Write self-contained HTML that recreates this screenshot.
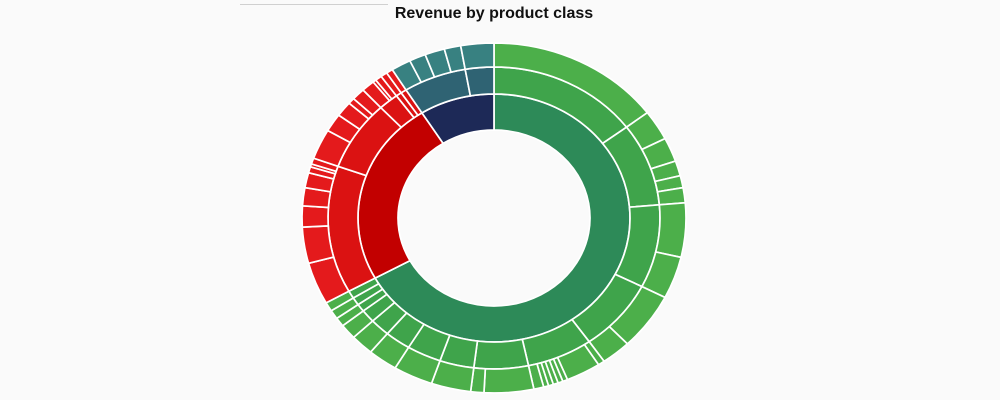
<!DOCTYPE html>
<html><head><meta charset="utf-8"><style>
html,body{margin:0;padding:0;background:#fafafa;}
svg{display:block;font-family:"Liberation Sans",Arial,sans-serif;}
</style></head><body>
<svg id="chart" width="1000" height="400">
<rect width="1000" height="400" fill="#fafafa"/>
<line x1="240" y1="4.5" x2="388" y2="4.5" stroke="#d0d0d0" stroke-width="1"/>
<text x="494" y="18" text-anchor="middle" font-size="16" font-weight="bold" fill="#111">Revenue by product class</text>
<g id="rings"></g>
</svg>
<script>
// Top-level classes
const classNames = ["Green class", "Red class", "Navy class"];
// Level-2 groups: parent class index
const groupParent = [0,0,0,0,0,0,0,0,0,0,0,0,0,0, 1,1,1,1,1, 2,2];
// Leaf values per level-2 group
const leafValues = [
  [53],
  [10,8,5,4,5],
  [18,14],
  [19,9],
  [2,10.5,1.5,1.5,1.5,1.5,1.5,3],
  [15,4],
  [12],
  [12],
  [9],
  [7],
  [5],
  [3],
  [3],
  [3],
  [14,12,7,6,5,2,1,2],
  [10,6,5,2,4],
  [4,1,2],
  [2],
  [2],
  [6,5,6,5],
  [10]
];
const ring1Colors = ["#2d8a58","#c20000","#1d2957"];
const ring2Colors = ["#3fa44b","#db1212","#2f6373"];
const ring3Colors = ["#4caf4a","#e41a1c","#388181"];

const cx = 494, cy = 218;
const RX = [96,136,166,192], RY = [88,124,151,175];
const g = document.getElementById('rings');
const NS = "http://www.w3.org/2000/svg";

const groupTotals = leafValues.map(a => a.reduce((s,v)=>s+v,0));
const classTotals = classNames.map((_,i)=>groupTotals.reduce((s,v,j)=>s+(groupParent[j]===i?v:0),0));
const grand = classTotals.reduce((s,v)=>s+v,0);
const ang = v => v/grand*2*Math.PI;

function pt(level, a){ return [cx + RX[level]*Math.sin(a), cy - RY[level]*Math.cos(a)]; }
function arc(level, a0, a1, color, name){
  const [x0,y0]=pt(level,a0),[x1,y1]=pt(level,a1),[x2,y2]=pt(level+1,a1),[x3,y3]=pt(level+1,a0);
  const large = (a1-a0)>Math.PI?1:0;
  const d = `M${x0},${y0} A${RX[level]},${RY[level]} 0 ${large} 1 ${x1},${y1} L${x2},${y2} A${RX[level+1]},${RY[level+1]} 0 ${large} 0 ${x3},${y3} Z`;
  const p = document.createElementNS(NS,'path');
  p.setAttribute('d',d);
  p.setAttribute('fill',color);
  p.setAttribute('stroke','#fff');
  p.setAttribute('stroke-width','1.7');
  
  
  g.appendChild(p);
}

let a = 0;
classNames.forEach((c,i)=>{
  const a1 = a + ang(classTotals[i]);
  arc(0, a, a1, ring1Colors[i], 'class-segment-' + (i+1));
  a = a1;
});
a = 0;
groupTotals.forEach((t,j)=>{
  const a1 = a + ang(t);
  arc(1, a, a1, ring2Colors[groupParent[j]], 'group-segment-' + (j+1));
  let b = a;
  leafValues[j].forEach((v,k)=>{
    const b1 = b + ang(v);
    arc(2, b, b1, ring3Colors[groupParent[j]], 'product-segment-' + (j+1) + '-' + (k+1));
    b = b1;
  });
  a = a1;
});
</script>
</body></html>
